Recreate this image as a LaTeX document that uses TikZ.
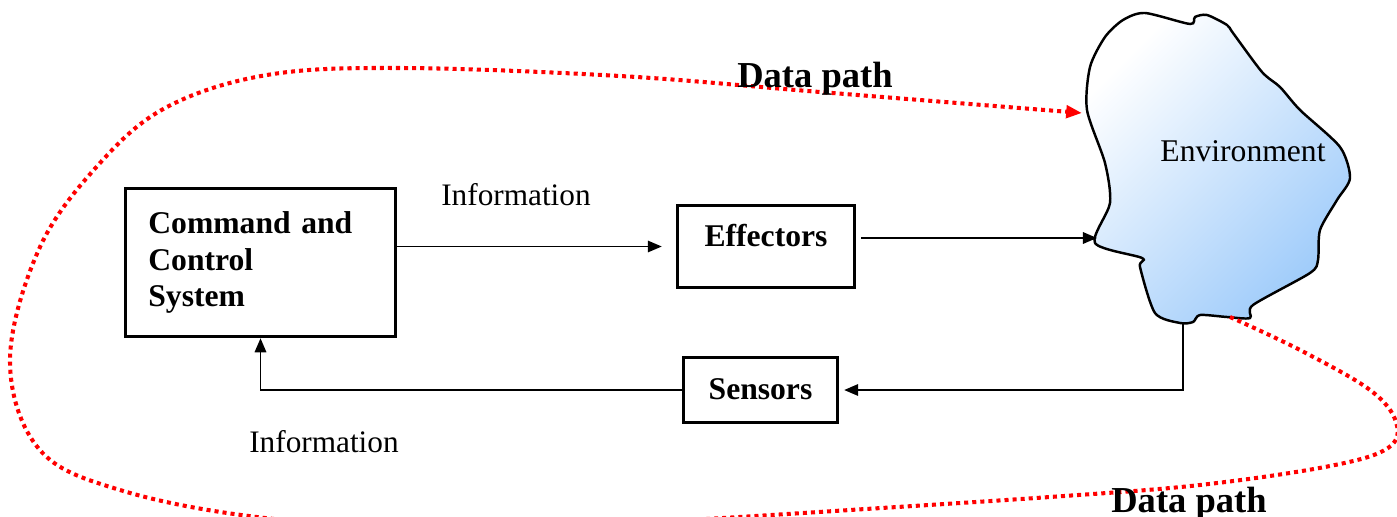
\documentclass[tikz,border=0pt]{standalone}
\usepackage{fontspec}
\setmainfont{Liberation Serif}
\usetikzlibrary{arrows.meta}
\definecolor{envblue}{RGB}{158,203,250}
\begin{document}
\begin{tikzpicture}[x=0.02cm,y=-0.02cm,
  box/.style={draw, line width=1.7pt, font=\fontsize{18}{20.7}\selectfont\bfseries, inner sep=0pt},
  conn/.style={line width=1.1pt, -{Triangle[length=8pt,width=6.5pt]}},
  info/.style={font=\fontsize{17.8}{20}\selectfont, anchor=base},
  dp/.style={font=\fontsize{20.8}{24}\selectfont\bfseries, anchor=base},
  datapath/.style={draw=red, line width=2.3pt, dash pattern=on 2.3pt off 2.3pt},
]
\useasboundingbox (0,0) rectangle (1397,517);
\clip (0,0) rectangle (1397,517);

% environment blob
\path[draw=black, line width=1.4pt, top color=white, bottom color=envblue, shading angle=45]
  plot[smooth cycle, tension=0.45] coordinates {
  (1145,13) (1190,24) (1195,17) (1207,15) (1227,25) (1233,33) (1262,72) (1280,87)
  (1300,110) (1340,147) (1350,178) (1337,200) (1320,230) (1318,260) (1310,273)
  (1253,305) (1250,318) (1227,317) (1200,315) (1193,322) (1180,323) (1155,313)
  (1140,267) (1142,258) (1095,243) (1110,203) (1105,163) (1087,110) (1090,67)
  (1105,37) (1123,20)};
\node[font=\fontsize{18}{20}\selectfont, anchor=base] (envlabel) at (1243,162) {Environment};

\coordinate (envin) at (1097,238);
\coordinate (envbot) at (1183,322);
\coordinate (envdpin) at (1082,113);
\coordinate (envdpout) at (1230,317);

% data path
\draw[datapath, -{Triangle[length=9pt,width=7pt]}] plot[smooth, tension=0.6] coordinates {
  (envdpout) (1300,350) (1370,390) (1396,422) (1388,448) (1330,466) (1200,485)
  (1050,497) (850,510) (690,520) (480,532) (265,518) (120,490) (39,449) (10,360)
  (40,247) (100,163) (167,107) (267,75) (400,68) (620,76) (820,92) (envdpin)};

% boxes
\node[box, minimum width=153.6pt, minimum height=84.5pt, text width=127.6pt, align=left] (cc) at (260.5,262.5) {Command and\\Control\\System};
\node[box, minimum width=100.9pt, minimum height=47.1pt, text height=8pt, text depth=8pt] (eff) at (766,246.5) {Effectors};
\node[box, minimum width=87.9pt, minimum height=37.4pt, text height=14pt, text depth=2.7pt] (sen) at (760.5,390) {Sensors};

% connectors
\draw[conn, shorten >=8pt] (cc.east |- eff.west) -- (eff.west);
\draw[conn, shorten <=2.8pt] (eff.east |- envin) -- (envin);
\draw[conn, shorten >=2.8pt] (envbot) |- (sen.east);
\draw[conn] (sen.west) -| (cc.south);

% labels
\node[info] (info1) at (516,205) {Information};
\node[info] (info2) at (324,452) {Information};
\node[dp] (dp1) at (815,88) {Data path};
\node[dp] (dp2) at (1189,512) {Data path};
\end{tikzpicture}
\end{document}
